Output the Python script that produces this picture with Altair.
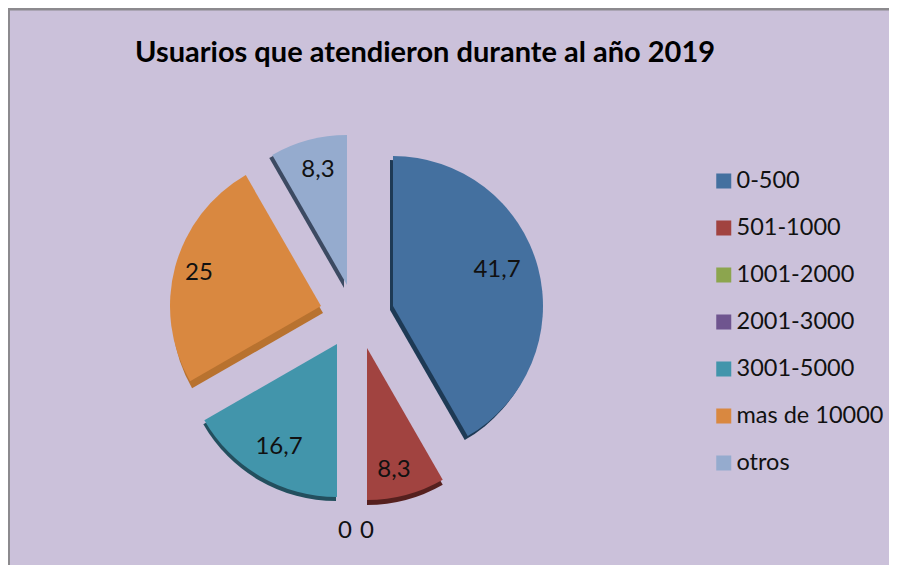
import altair as alt
import pandas as pd

categories = ["0-500", "501-1000", "1001-2000", "2001-3000", "3001-5000", "mas de 10000", "otros"]
values = [41.7, 8.3, 0, 0, 16.7, 25, 8.3]
value_labels = ["41,7", "8,3", "0", "0", "16,7", "25", "8,3"]
colors = ["#44709F", "#A14340", "#8CA54E", "#6F558F", "#4295AB", "#D98840", "#95ABCE"]
shades = ["#1E3A55", "#55201E", "#8CA54E", "#6F558F", "#234F5E", "#B8722F", "#3C4A62"]
title_text = "Usuarios que atendieron durante al año 2019"
BG = "#CBC1DA"
FONT = "Lato"

# exploded-pie geometry (page pixels): apex x, apex y, radius, shadow dx, shadow dy
geom = [
    (393, 306, 150, -3, 4),
    (367, 348, 152, 0, 5),
    (352, 345, 1, 0, 0),
    (352, 345, 1, 0, 0),
    (337, 344, 153, -1, 4),
    (321, 306, 151, 2, 7),
    (347, 285, 150, -3, 3),
]
label_pos = [(497, 270), (394, 470), (345, 531), (367, 531), (279, 447), (199, 273), (318, 170)]


def px(v):
    return v - 8


rows = []
acc = 0.0
for c, v, t in zip(categories, values, value_labels):
    rows.append({"cat": c, "value": v, "label": t, "start": acc, "end": acc + v})
    acc += v
df = pd.DataFrame(rows)

theta_scale = alt.Scale(domain=[0, 100], range=[0, 6.283185307])
color_scale = alt.Scale(domain=categories, range=colors)

layers = []
# frame
layers.append(alt.Chart(df.head(1)).mark_rule(color="#8C8A8E", strokeWidth=3).encode(
    x=alt.value(1), x2=alt.value(881), y=alt.value(1)))
layers.append(alt.Chart(df.head(1)).mark_rule(color="#8C8A8E", strokeWidth=2).encode(
    x=alt.value(1), y=alt.value(0), y2=alt.value(557)))

for i, c in enumerate(categories):
    sub = df[df.cat == c]
    ax, ay, r, sx, sy = geom[i]
    if values[i] == 0:
        continue
    layers.append(alt.Chart(sub).mark_arc(radius=r, color=shades[i]).encode(
        x=alt.value(px(ax + sx)), y=alt.value(px(ay + sy)),
        theta=alt.Theta("start:Q", scale=theta_scale), theta2="end:Q"))

for i, c in enumerate(categories):
    sub = df[df.cat == c]
    ax, ay, r, sx, sy = geom[i]
    layers.append(alt.Chart(sub).mark_arc(radius=r).encode(
        x=alt.value(px(ax)), y=alt.value(px(ay)),
        theta=alt.Theta("start:Q", scale=theta_scale), theta2="end:Q",
        color=alt.Color("cat:N", scale=color_scale, legend=alt.Legend(
            title=None, orient="none", legendX=px(712), legendY=px(169), padding=0,
            symbolType="square", symbolSize=225, symbolStrokeWidth=0, symbolOpacity=1,
            labelFont=FONT, labelFontSize=23.5, labelColor="#111111", labelOffset=1,
            labelLimit=200, rowPadding=23, clipHeight=24))))

for i, c in enumerate(categories):
    sub = df[df.cat == c]
    lx, ly = label_pos[i]
    layers.append(alt.Chart(sub).mark_text(font=FONT, fontSize=24, color="#111111").encode(
        x=alt.value(px(lx)), y=alt.value(px(ly)), text="label:N"))

chart = alt.layer(*layers).properties(
    width=881, height=557, padding=0, background=BG,
    autosize=alt.AutoSizeParams(type="none"),
    title=alt.TitleParams(title_text, font=FONT, fontSize=29, fontWeight="bold", color="#000000",
                          anchor="start", frame="group", dx=127, dy=75, baseline="middle", offset=0),
).configure_view(stroke=None).resolve_scale(color="shared")

chart.save("out.html", embed_options={"renderer": "svg", "actions": False})
